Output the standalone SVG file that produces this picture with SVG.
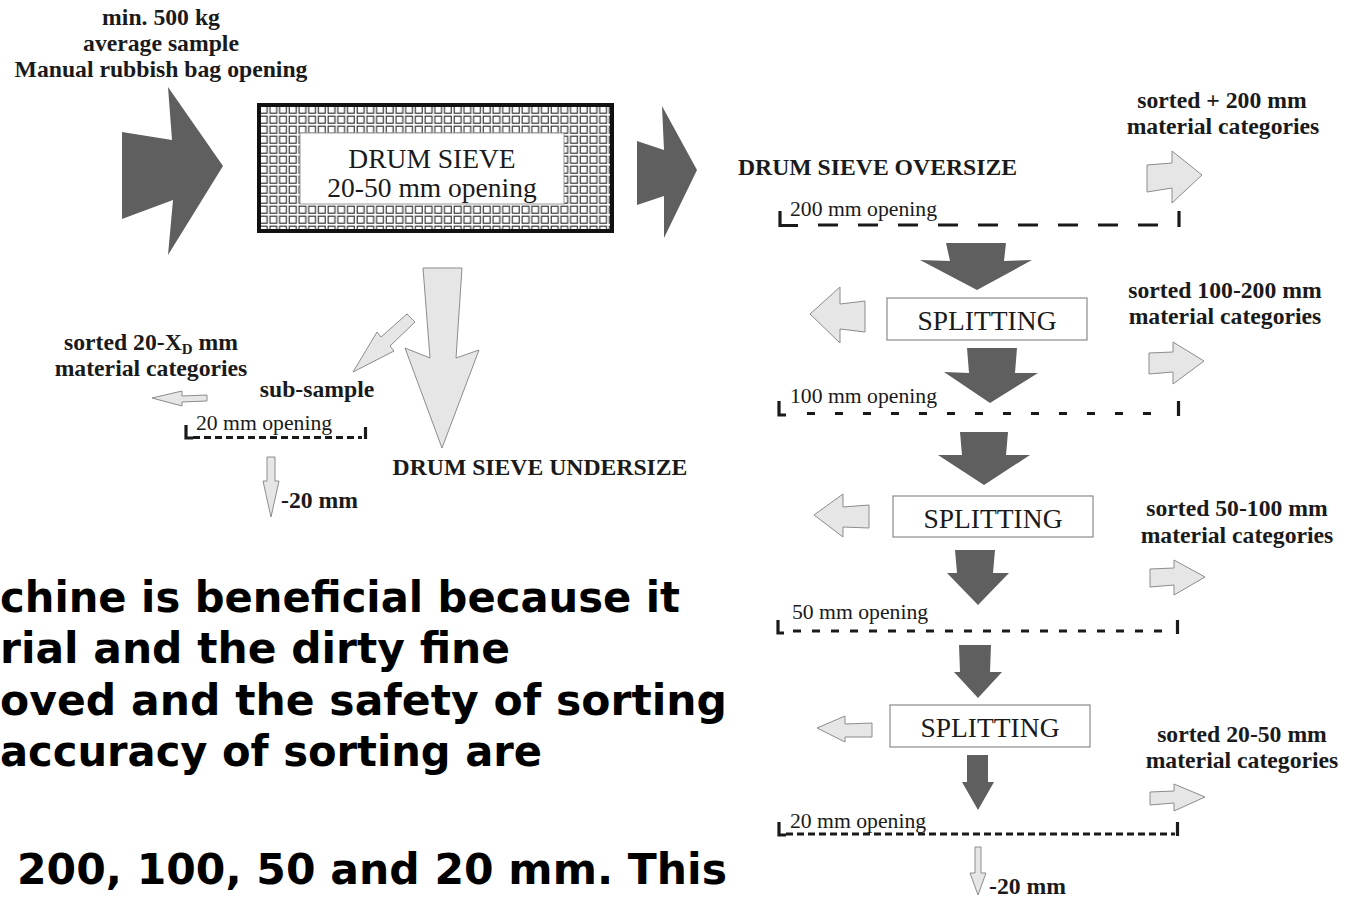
<svg xmlns="http://www.w3.org/2000/svg" width="1355" height="901" viewBox="0 0 1355 901">
<style>
.lb{font-family:"Liberation Serif","Times New Roman",serif;font-weight:bold;font-size:23.7px;fill:#1a1a1a}
.rg{font-family:"Liberation Serif","Times New Roman",serif;font-size:21.7px;fill:#1a1a1a}
.bx{font-family:"Liberation Serif","Times New Roman",serif;font-size:27.5px;fill:#1a1a1a}
.big{font-family:"DejaVu Sans",sans-serif;font-weight:bold;font-size:42px;fill:#000}
.dk{fill:#5f5f5f;stroke:none}
.lt{fill:#e6e6e6;stroke:#8c8c8c;stroke-width:1}
.br{fill:none;stroke:#1a1a1a;stroke-width:3.2}
.sp{fill:#fff;stroke:#8a8a8a;stroke-width:1.2}
</style>
<defs>
<pattern id="mesh" x="259" y="105" width="9.7" height="10" patternUnits="userSpaceOnUse">
<rect width="9.7" height="10" fill="#fff"/>
<rect x="1.2" y="1.2" width="6.8" height="7" fill="none" stroke="#2a2a2a" stroke-width="1.1"/>
</pattern>
</defs>
<rect width="1355" height="901" fill="#fff"/>

<g id="input-label">
<text class="lb" x="161" y="25" text-anchor="middle">min. 500 kg</text>
<text class="lb" x="161" y="51" text-anchor="middle">average sample</text>
<text class="lb" x="161" y="77" text-anchor="middle">Manual rubbish bag opening</text>
</g>

<g id="drum-sieve">
<rect x="259" y="105" width="353" height="126" fill="url(#mesh)" stroke="#111" stroke-width="4"/>
<rect x="300" y="133" width="264" height="71" fill="#fff" stroke="#999" stroke-width="1"/>
<text class="bx" x="432" y="168" text-anchor="middle">DRUM SIEVE</text>
<text class="bx" x="432" y="197" text-anchor="middle">20-50 mm opening</text>
</g>

<g id="undersize">
<text class="lb" x="540" y="475" text-anchor="middle">DRUM SIEVE UNDERSIZE</text>
</g>

<g id="sub-sample">
<text class="lb" x="317" y="397" text-anchor="middle">sub-sample</text>
</g>

<g id="sorted-20-xd">
<text class="lb" x="151" y="350" text-anchor="middle">sorted 20-X<tspan font-size="15" dy="4">D</tspan><tspan dy="-4"> mm</tspan></text>
<text class="lb" x="151" y="376" text-anchor="middle">material categories</text>
</g>

<g id="sieve-20-left">
<text class="rg" x="196" y="430">20 mm opening</text>
<path class="br" d="M186,425 V438 H193"/>
<path class="br" d="M193,437.5 H362" stroke-dasharray="7 4"/>
<path class="br" d="M365.5,427 V439"/>
</g>

<g id="minus20-left">
<text class="lb" x="281" y="508">-20 mm</text>
</g>

<g id="oversize">
<text class="lb" x="738" y="175">DRUM SIEVE OVERSIZE</text>
</g>

<g id="sieve-200">
<text class="rg" x="790" y="216">200 mm opening</text>
<path class="br" d="M780,211 V225.5 H798"/>
<path class="br" d="M818,225 H1158" stroke-dasharray="20 20"/>
<path class="br" d="M1179,211 V227"/>
</g>

<g id="sorted-200">
<text class="lb" x="1222" y="108" text-anchor="middle">sorted + 200 mm</text>
<text class="lb" x="1223" y="134" text-anchor="middle">material categories</text>
</g>

<g id="splitting-1">
<rect class="sp" x="887" y="298" width="200" height="42"/>
<text class="bx" x="987" y="330" text-anchor="middle">SPLITTING</text>
</g>

<g id="sorted-100-200">
<text class="lb" x="1225" y="298" text-anchor="middle">sorted 100-200 mm</text>
<text class="lb" x="1225" y="324" text-anchor="middle">material categories</text>
</g>

<g id="sieve-100">
<text class="rg" x="790" y="403">100 mm opening</text>
<path class="br" d="M779,401 V415 H786"/>
<path class="br" d="M807,413.5 H1162" stroke-dasharray="8 20"/>
<path class="br" d="M1178.5,401 V416"/>
</g>

<g id="splitting-2">
<rect class="sp" x="893" y="496" width="200" height="41"/>
<text class="bx" x="993" y="528" text-anchor="middle">SPLITTING</text>
</g>

<g id="sorted-50-100">
<text class="lb" x="1237" y="516" text-anchor="middle">sorted 50-100 mm</text>
<text class="lb" x="1237" y="543" text-anchor="middle">material categories</text>
</g>

<g id="sieve-50">
<text class="rg" x="792" y="619">50 mm opening</text>
<path class="br" d="M778,620 V633 H784"/>
<path class="br" d="M793,631 H1165" stroke-dasharray="8 11"/>
<path class="br" d="M1177.5,620 V634"/>
</g>

<g id="splitting-3">
<rect class="sp" x="890" y="705" width="200" height="42"/>
<text class="bx" x="990" y="737" text-anchor="middle">SPLITTING</text>
</g>

<g id="sorted-20-50">
<text class="lb" x="1242" y="742" text-anchor="middle">sorted 20-50 mm</text>
<text class="lb" x="1242" y="768" text-anchor="middle">material categories</text>
</g>

<g id="sieve-20-right">
<text class="rg" x="790" y="828">20 mm opening</text>
<path class="br" d="M779,822 V835 H786"/>
<path class="br" d="M786,834 H1175" stroke-dasharray="7 4"/>
<path class="br" d="M1177.5,822 V836"/>
</g>

<g id="minus20-right">
<text class="lb" x="989" y="894">-20 mm</text>
</g>

<g id="connectors">
<polygon class="dk" points="122,132 172,140 168,87 223,166 168,255 173,200 122,219"/>
<polygon class="dk" points="637,141 664,150 662,106 697,170 664,238 664,196 637,205"/>
<polygon class="lt" points="423,268 462,268 456,358 479,350 442,448 405,348 430,358"/>
<polygon class="lt" points="415,322 407,314 381,337 377,332 353,372 394,351 390,346"/>
<polygon class="lt" points="207,395 182,396 182,391 152,398 182,406 182,402 207,401"/>
<polygon class="lt" points="267,457 275,457 275,481 279,481 271,517 263,481 267,481"/>
<polygon class="dk" points="946,243 1006,243 1004,261 1032,260 977,290 920,260 950,261"/>
<polygon class="lt" points="865,301 840,304 840,287 810,314 840,343 840,329 865,332"/>
<polygon class="lt" points="1147,165 1172,163 1172,151 1202,175 1172,203 1172,188 1147,192"/>
<polygon class="dk" points="967,348 1017,348 1015,373 1038,373 990,403 944,372 969,373"/>
<polygon class="lt" points="1149,353 1173,352 1173,342 1204,361 1173,384 1173,372 1149,374"/>
<polygon class="dk" points="960,432 1008,432 1006,455 1030,455 984,485 938,455 962,455"/>
<polygon class="lt" points="869,505 843,507 843,494 814,515 843,537 843,527 869,528"/>
<polygon class="dk" points="955,550 995,550 993,573 1009,573 978,605 947,573 957,573"/>
<polygon class="lt" points="1150,569 1174,568 1174,560 1205,577 1174,595 1174,585 1150,587"/>
<polygon class="dk" points="959,645 991,645 990,672 1002,672 978,698 954,672 960,672"/>
<polygon class="lt" points="872,723 845,724 845,716 817,728 845,742 845,737 872,737"/>
<polygon class="dk" points="967,755 988,755 988,782 994,782 978,810 962,782 967,782"/>
<polygon class="lt" points="1150,792 1174,791 1174,784 1205,797 1174,811 1174,803 1150,805"/>
<polygon class="lt" points="975,847 981,847 981,873 986,873 978,895 970,873 975,873"/>
</g>

<g id="caption-text">
<text class="big" x="0" y="612" textLength="680" lengthAdjust="spacingAndGlyphs">chine is beneficial because it</text>
<text class="big" x="0" y="663" textLength="510" lengthAdjust="spacingAndGlyphs">rial and the dirty fine</text>
<text class="big" x="0" y="715" textLength="727" lengthAdjust="spacingAndGlyphs">oved and the safety of sorting</text>
<text class="big" x="0" y="766" textLength="542" lengthAdjust="spacingAndGlyphs">accuracy of sorting are</text>
<text class="big" x="17" y="884" textLength="710" lengthAdjust="spacingAndGlyphs">200, 100, 50 and 20 mm. This</text>
</g>
</svg>
